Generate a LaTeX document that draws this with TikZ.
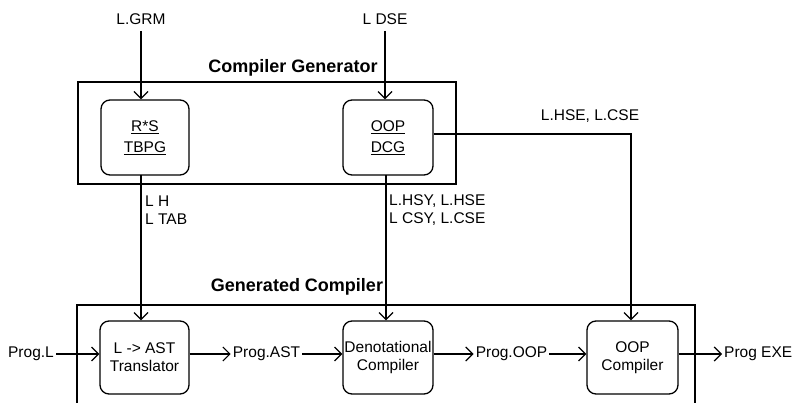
\documentclass[tikz,border=0pt]{standalone}
\usepackage{fontspec}
\setmainfont{Liberation Sans}
\usetikzlibrary{arrows.meta}
\begin{document}
\begin{tikzpicture}[x=1pt,y=-1pt,
  every node/.style={font=\fontsize{15.5}{18}\selectfont},
  lbl/.style={inner sep=2pt},
  ttl/.style={font=\fontsize{18}{21}\selectfont\bfseries},
  blk/.style={draw,line width=1.3pt,rounded corners=9pt,inner sep=0pt,align=center},
  frame/.style={draw,line width=1.4pt},
  conn/.style={line width=1.2pt},
  arr/.style={conn,-{Straight Barb[length=7pt,width=14pt,line width=1.2pt]}}]
\useasboundingbox (0,0) rectangle (793,403);
% frames
\draw[frame] (78,82) rectangle (456,184);
\node[ttl] (cgt) at (293,68) {Compiler Generator};
\draw[frame] (77,410) -- (77,305) -- (695,305) -- (695,410);
\node[ttl] (gct) at (297,287) {Generated Compiler};
% blocks
\node[blk,minimum width=88pt,minimum height=75pt] (rs) at (145,137.5)
  {\underline{R*S}\\[3pt]\underline{TBPG}};
\node[blk,minimum width=90pt,minimum height=75pt] (oop) at (388,137.5)
  {\underline{OOP}\\[3pt]\underline{DCG}};
\node[blk,minimum width=89pt,minimum height=73pt] (tr) at (144.5,357.5)
  {L -> AST\\Translator};
\node[blk,minimum width=90pt,minimum height=73pt] (den) at (388,357.5)
  {Denotational\\Compiler};
\node[blk,minimum width=91pt,minimum height=73pt] (occ) at (632.5,357.5)
  {OOP\\Compiler};
% inputs
\node[lbl] (grm) at (141,19) {L.GRM};
\node[lbl] (dse) at (385,19) {L DSE};
\coordinate (grmb) at (141,31);
\coordinate (dseb) at (385,31);
\draw[arr] (grmb) -- (grmb |- rs.north);
\draw[arr] (dseb) -- (dseb |- oop.north);
% vertical down connectors
\coordinate (rsb) at (141,175);
\draw[arr] (rsb) -- (rsb |- tr.north);
\node[lbl,anchor=west,align=left] (lh) at (143,210) {L H\\L TAB};
\coordinate (oopb) at (386,175);
\draw[arr] (oopb) -- (oopb |- den.north);
\node[lbl,anchor=west,align=left] (lhsy) at (387,210) {L.HSY, L.HSE\\L CSY, L.CSE};
% right connector
\coordinate (rc) at (631,134);
\draw[arr] (oop.east |- rc) -- (rc) -- (rc |- occ.north);
\node[lbl] (hse) at (590,116) {L.HSE, L.CSE};
% horizontal flow
\node[lbl,anchor=east] (pl) at (56,354) {Prog.L};
\draw[arr] (pl.east) -- (pl.east -| tr.west);
\node[lbl] (past) at (266.5,354) {Prog.AST};
\draw[arr] (tr.east |- past) -- (past.west);
\draw[arr] (past.east) -- (past.east -| den.west);
\node[lbl] (poop) at (511.5,354) {Prog.OOP};
\draw[arr] (den.east |- poop) -- (poop.west);
\draw[arr] (poop.east) -- (poop.east -| occ.west);
\node[lbl,anchor=west] (pexe) at (722,354) {Prog EXE};
\draw[arr] (occ.east |- pexe) -- (pexe.west);
\end{tikzpicture}
\end{document}
